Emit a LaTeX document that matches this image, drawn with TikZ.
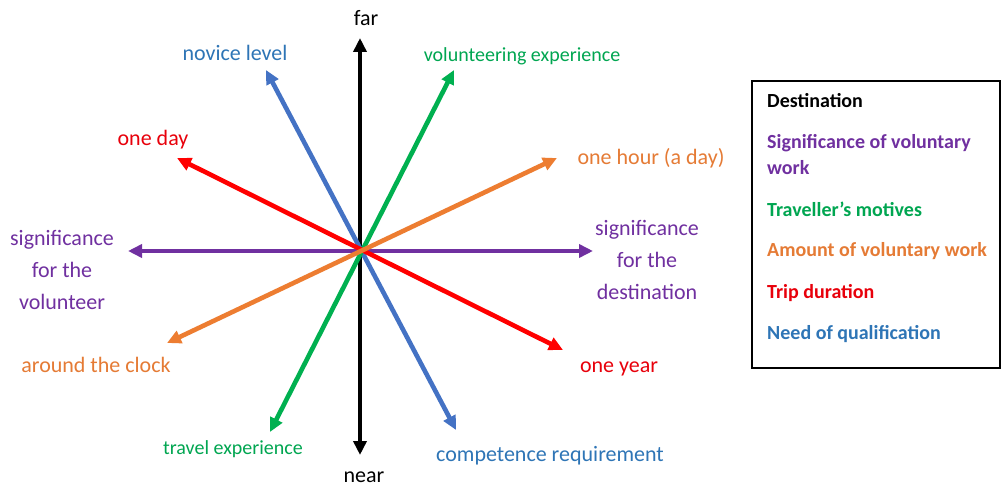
\documentclass[tikz,border=0pt]{standalone}
\usepackage{fontspec}
\setmainfont{Carlito}
\usetikzlibrary{arrows.meta}
\definecolor{cpurple}{HTML}{7030A0}
\definecolor{cgreen}{HTML}{00B050}
\definecolor{corange}{HTML}{ED7D31}
\definecolor{cred}{HTML}{FF0000}
\definecolor{cblue}{HTML}{4472C4}
\definecolor{tblue}{HTML}{2E75B6}
\definecolor{tgreen}{HTML}{00A651}
\definecolor{torange}{HTML}{E57B35}
\definecolor{tred}{HTML}{E8000B}
\definecolor{tpurple}{HTML}{7030A0}
\begin{document}
\begin{tikzpicture}[x=1pt,y=-1pt,
  axis/.style={line width=4.6pt, {Triangle[length=14pt,width=13pt]}-{Triangle[length=14pt,width=13pt]}},
  lbl/.style={font=\fontsize{22}{32}\selectfont, inner sep=0pt, align=center},
  lbls/.style={font=\fontsize{20}{30}\selectfont, inner sep=0pt, align=center},
  leg/.style={font=\fontsize{20}{26}\selectfont\bfseries, inner sep=0pt, anchor=mid west, align=left}]
\useasboundingbox[fill=white] (0,0) rectangle (1002,486);
% arrow ends
\coordinate (k1) at (360,38);  \coordinate (k2) at (360,455);
\coordinate (b1) at (266,70);  \coordinate (b2) at (456,430);
\coordinate (g1) at (454,70);  \coordinate (g2) at (270,432);
\coordinate (r1) at (177,158); \coordinate (r2) at (563,350);
\coordinate (o1) at (557,158); \coordinate (o2) at (167,343);
\coordinate (p1) at (128,251); \coordinate (p2) at (593,251);
% arrows
\draw[axis, black] (k1) -- (k2);
\draw[axis, cblue] (b1) -- (b2);
\draw[axis, cgreen] (g1) -- (g2);
\draw[axis, cpurple] (p1) -- (p2);
\draw[axis, cred] (r1) -- (r2);
\draw[axis, corange] (o1) -- (o2);
% labels
\node[lbl, anchor=mid] (far) at (366,23) {far};
\node[lbl, anchor=mid] (near) at (364,480) {near};
\node[lbl, anchor=mid, text=tblue] (nov) at (235,58) {novice level};
\node[lbls, anchor=mid, text=tgreen] (volexp) at (522,59.5) {volunteering experience};
\node[lbl, anchor=mid, text=tred] (oneday) at (153,143) {one day};
\node[lbl, anchor=mid, text=torange] (onehour) at (651,162) {one hour (a day)};
\node[lbl, text=tpurple] (sigvol) at (62,270) {significance\\for the\\volunteer};
\node[lbl, text=tpurple] (sigdest) at (647,260) {significance\\for the\\destination};
\node[lbl, anchor=mid, text=torange] (clock) at (96,370) {around the clock};
\node[lbl, anchor=mid, text=tred] (oneyear) at (619,370) {one year};
\node[lbls, anchor=mid, text=tgreen] (travexp) at (233,452.5) {travel experience};
\node[lbl, anchor=mid, text=tblue] (comp) at (550,459) {competence requirement};
% legend
\node[draw, line width=2pt, minimum width=248pt, minimum height=287pt, anchor=north west, inner sep=0pt] (legend) at (751,80) {};
\node[leg] (l0) at (767,105) {Destination};
\node[leg, text=tpurple, anchor=north west] (l1) at (767,134) {Significance of voluntary\\work};
\node[leg, text=tgreen] (l2) at (767,214) {Traveller’s motives};
\node[leg, text=torange] (l3) at (767,254) {Amount of voluntary work};
\node[leg, text=tred] (l4) at (767,296) {Trip duration};
\node[leg, text=tblue] (l5) at (767,337) {Need of qualification};
\end{tikzpicture}
\end{document}
